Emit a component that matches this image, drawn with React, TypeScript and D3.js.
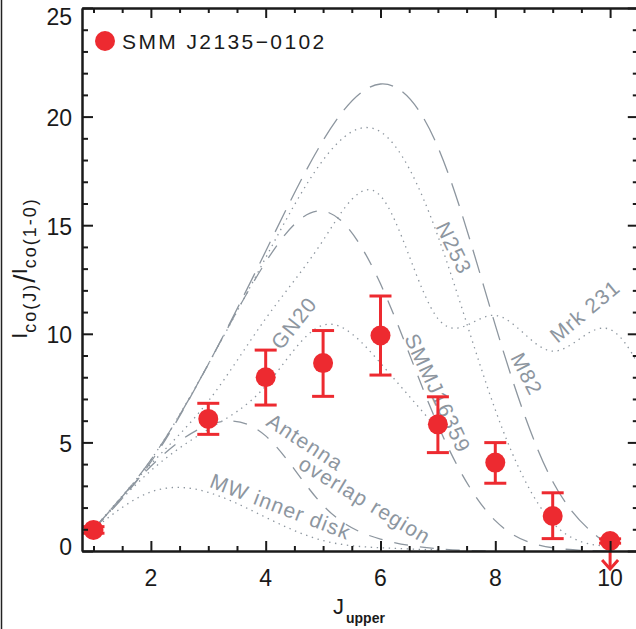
import React, { useEffect, useRef } from 'react';
import * as d3 from 'd3';

const W = 636;
const H = 629;
const X_DOMAIN: [number, number] = [0.8, 10.5];
const Y_DOMAIN: [number, number] = [0, 25];

// Observed SMM J2135-0102 line ratios
const J_OBS = [1, 3, 4, 5, 6, 7, 8, 9, 10];
const RATIO = [0.97, 6.08, 8.0, 8.65, 9.92, 5.83, 4.07, 1.61, 0.46];
const ERR_HI = [1.12, 6.8, 9.25, 10.15, 11.74, 7.1, 4.99, 2.68, 0.56];
const ERR_LO = [0.82, 5.37, 6.72, 7.12, 8.1, 4.53, 3.12, 0.57, 0.36];
const UPPER_LIMIT = [false, false, false, false, false, false, false, false, true];

// Comparison SLEDs (value at J = 1, 2, 3, ...)
const J_MODEL = [1, 2, 3, 4, 5, 6, 7, 8, 9, 10, 11];
const M82 = [1, 4.2, 8.6, 13.8, 18.9, 21.5, 18.6, 10.4, 3.2, 0.2];
const N253 = [1, 4.2, 8.6, 13.5, 18.0, 19.3, 14.5, 6.5, 1.3, 0.2];
const MRK231 = [1, 4.0, 6.9, 10.7, 14.3, 16.35, 10.7, 10.85, 9.2, 10.2, 5.5];
const SMMJ16359 = [1, 4.1, 8.6, 13.3, 15.65, 12.3, 5.8, 1.4, 0.15, 0.0];
const GN20 = [1, 3.7, 5.6, 7.6, 10.4, 8.65, 5.6];
const ANTENNA = [1, 3.9, 5.8, 5.3, 2.1, 0.55, 0.1, 0.0];
const MW_INNER = [1, 2.72, 2.7, 1.55, 0.48, 0.15, 0.05];

const X_MAJOR = [2, 4, 6, 8, 10];
const Y_MAJOR = [0, 5, 10, 15, 20, 25];

const RED = '#ED2A30';
const GREY = '#8D969F';
const FONT = "'Liberation Sans', Arial, sans-serif";

export default function App() {
  const ref = useRef<SVGSVGElement>(null);

  useEffect(() => {
    const svg = d3.select(ref.current);
    svg.selectAll('*').remove();

    const x = d3.scaleLinear().domain(X_DOMAIN).range([82, 638.8]);
    const y = d3.scaleLinear().domain(Y_DOMAIN).range([551, 8]);
    const [x0, x1] = x.range();
    const [y0, y1] = y.range();

    svg.append('rect').attr('width', W).attr('height', H).attr('fill', '#fff');

    svg.append('defs').append('clipPath').attr('id', 'plotclip')
      .append('rect').attr('x', x0).attr('y', y1).attr('width', x1 - x0).attr('height', y0 - y1);

    // figure border at left
    svg.append('line').attr('x1', 1.5).attr('x2', 1.5).attr('y1', 0).attr('y2', H)
      .attr('stroke', '#222').attr('stroke-width', 1.5);

    // model curves
    const curves = [
      { v: M82, dash: '24 11' },
      { v: N253, dash: '1.4 4.6' },
      { v: MRK231, dash: '1.4 4.6' },
      { v: SMMJ16359, dash: '15 12' },
      { v: GN20, dash: '1.4 4.6' },
      { v: ANTENNA, dash: '14 12' },
      { v: MW_INNER, dash: '1.4 4.6' },
    ];
    const line = d3.line<[number, number]>()
      .x(d => x(d[0])).y(d => y(d[1]))
      .curve(d3.curveNatural);
    const cg = svg.append('g').attr('clip-path', 'url(#plotclip)');
    curves.forEach(c => {
      const pts: [number, number][] = c.v.map((v, i) => [J_MODEL[i], v]);
      cg.append('path').attr('d', line(pts) as string)
        .attr('fill', 'none').attr('stroke', GREY).attr('stroke-width', 1.3)
        .attr('stroke-dasharray', c.dash);
    });

    // curve labels
    const labels = [
      { t: 'GN20', x: 4.49, y: 10.5, r: -52 },
      { t: 'N253', x: 7.28, y: 13.95, r: 64 },
      { t: 'Mrk 231', x: 9.56, y: 11.05, r: -40 },
      { t: 'M82', x: 8.55, y: 8.15, r: 63 },
      { t: 'SMMJ16359', x: 7.0, y: 7.27, r: 65 },
      { t: 'Antenna', x: 4.69, y: 5.02, r: 33 },
      { t: 'overlap region', x: 5.73, y: 2.35, r: 31 },
      { t: 'MW inner disk', x: 4.26, y: 2.05, r: 21 },
    ];
    labels.forEach(l => {
      svg.append('text')
        .attr('transform', `translate(${x(l.x)},${y(l.y)}) rotate(${l.r})`)
        .attr('text-anchor', 'middle').attr('dominant-baseline', 'central')
        .attr('font-family', FONT).attr('font-size', 21).attr('letter-spacing', 1.2)
        .attr('fill', GREY).text(l.t);
    });

    // data points
    const pg = svg.append('g');
    J_OBS.forEach((j, i) => {
      const cx = x(j);
      pg.append('line').attr('x1', cx).attr('x2', cx)
        .attr('y1', y(ERR_LO[i])).attr('y2', y(ERR_HI[i]))
        .attr('stroke', RED).attr('stroke-width', 3);
      [ERR_LO[i], ERR_HI[i]].forEach(e => {
        pg.append('line').attr('x1', cx - 11).attr('x2', cx + 11)
          .attr('y1', y(e)).attr('y2', y(e))
          .attr('stroke', RED).attr('stroke-width', 3);
      });
      if (UPPER_LIMIT[i]) {
        const yb = y(RATIO[i]) + 28;
        pg.append('line').attr('x1', cx).attr('x2', cx)
          .attr('y1', y(RATIO[i])).attr('y2', yb)
          .attr('stroke', RED).attr('stroke-width', 3);
        pg.append('path')
          .attr('d', `M${cx - 8},${yb - 9}L${cx},${yb}L${cx + 8},${yb - 9}`)
          .attr('fill', 'none').attr('stroke', RED).attr('stroke-width', 3);
      }
      pg.append('circle').attr('cx', cx).attr('cy', y(RATIO[i])).attr('r', 10).attr('fill', RED);
    });

    // axes
    const xMinor = d3.range(1, 10.51, 0.5).filter(v => !X_MAJOR.includes(v));
    const yMinor = d3.range(0, 25.01, 1).filter(v => !Y_MAJOR.includes(v));
    const styleAxis = (g: any) => {
      g.selectAll('path').attr('stroke', '#1a1a1a').attr('stroke-width', 2);
      g.selectAll('line').attr('stroke', '#1a1a1a').attr('stroke-width', 2);
      g.selectAll('text').remove();
    };
    const addAxis = (axis: any, tx: number, ty: number) => {
      const g = svg.append('g').attr('transform', `translate(${tx},${ty})`).call(axis);
      styleAxis(g);
    };
    addAxis(d3.axisBottom(x).tickValues(X_MAJOR).tickSizeInner(-10).tickSizeOuter(0), 0, y0);
    addAxis(d3.axisBottom(x).tickValues(xMinor).tickSizeInner(-5).tickSizeOuter(0), 0, y0);
    addAxis(d3.axisTop(x).tickValues(X_MAJOR).tickSizeInner(-10).tickSizeOuter(0), 0, y1);
    addAxis(d3.axisTop(x).tickValues(xMinor).tickSizeInner(-5).tickSizeOuter(0), 0, y1);
    addAxis(d3.axisLeft(y).tickValues(Y_MAJOR).tickSizeInner(-11).tickSizeOuter(0), x0, 0);
    addAxis(d3.axisLeft(y).tickValues(yMinor).tickSizeInner(-6).tickSizeOuter(0), x0, 0);
    addAxis(d3.axisRight(y).tickValues(Y_MAJOR).tickSizeInner(-11).tickSizeOuter(0), x1, 0);
    addAxis(d3.axisRight(y).tickValues(yMinor).tickSizeInner(-6).tickSizeOuter(0), x1, 0);

    // tick labels
    X_MAJOR.forEach(v => {
      svg.append('text').attr('x', x(v)).attr('y', 586).attr('text-anchor', 'middle')
        .attr('font-family', FONT).attr('font-size', 23).attr('fill', '#1a1a1a').text(String(v));
    });
    Y_MAJOR.forEach(v => {
      const cy = Math.max(17, Math.min(546.5, y(v) + 1.5));
      svg.append('text').attr('x', 72).attr('y', cy).attr('text-anchor', 'end')
        .attr('dominant-baseline', 'central')
        .attr('font-family', FONT).attr('font-size', 23).attr('fill', '#1a1a1a').text(String(v));
    });

    // axis titles
    const xt = svg.append('text').attr('x', 333).attr('y', 614)
      .attr('font-family', FONT).attr('fill', '#1a1a1a');
    xt.append('tspan').attr('font-size', 22).text('J');
    xt.append('tspan').attr('font-size', 14).attr('font-weight', 'bold').attr('dx', 2).attr('dy', 9).text('upper');

    const yt = svg.append('text').attr('transform', 'translate(27,268) rotate(-90)')
      .attr('text-anchor', 'middle').attr('font-family', FONT).attr('fill', '#1a1a1a');
    yt.append('tspan').attr('font-size', 22).text('I');
    yt.append('tspan').attr('font-size', 18).attr('letter-spacing', 2).attr('dy', 9).text('co(J)');
    yt.append('tspan').attr('font-size', 30).attr('dy', -1).text('/');
    yt.append('tspan').attr('font-size', 22).attr('dy', -8).text('I');
    yt.append('tspan').attr('font-size', 18).attr('letter-spacing', 2).attr('dy', 9).text('co(1-0)');

    // legend
    svg.append('circle').attr('cx', 105).attr('cy', 41).attr('r', 10).attr('fill', RED);
    svg.append('text').attr('x', 122).attr('y', 48.5)
      .attr('font-family', FONT).attr('font-size', 21).attr('letter-spacing', 2.4)
      .attr('fill', '#1a1a1a').text('SMM J2135\u22120102');
  }, []);

  return (
    <svg ref={ref} width={W} height={H}
      style={{ position: 'absolute', left: 0, top: 0, display: 'block' }} />
  );
}
